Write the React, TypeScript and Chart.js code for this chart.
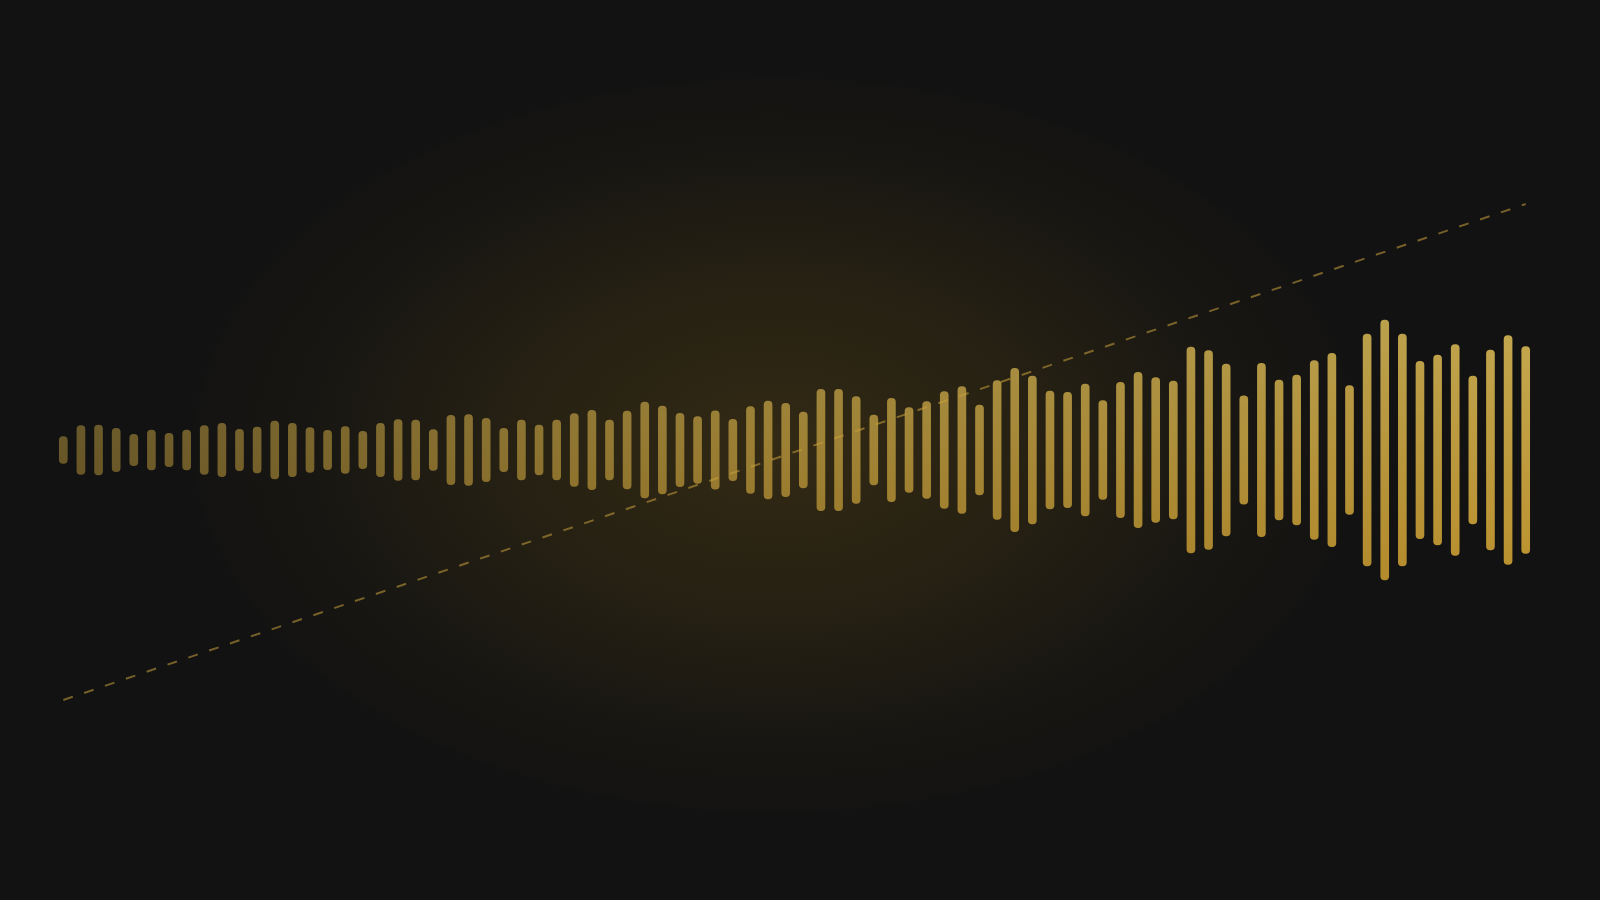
import React, { useEffect, useRef } from "react";
import { Chart, registerables } from "chart.js";

Chart.register(...registerables);

// amplitude of each waveform bar (half-height, symmetric around zero)
const amplitude: number[] = [
  13.3, 24.3, 25, 21.7, 15.7, 20, 16.7, 20, 24.3, 26.7,
  20.7, 23, 29, 26.7, 22.3, 19.7, 23.3, 18.7, 26.7, 30.3,
  30, 20.3, 34.7, 35.3, 31.7, 21.7, 30, 25, 30, 36.3,
  39.7, 30, 39, 48, 44, 36.7, 33.3, 39.2, 30.7, 43.3,
  49, 46.7, 38, 60.7, 60.7, 53.3, 35, 51.7, 42.3, 48.3,
  58.3, 63.3, 45, 69.3, 81.7, 74, 59, 57.7, 66, 49.3,
  67.7, 77.6, 72.3, 69, 103, 99.5, 86, 54.2, 86.7, 70,
  75, 89.3, 96.7, 64.3, 116, 130, 116, 88.7, 95, 105.3,
  74, 100, 114.3, 103.3,
];

const frames: string[] = amplitude.map((_, i) => String(i + 1));

// dashed trend line endpoints (first and last frame)
const trendStart = -250;
const trendEnd = 246;

const Y_MIN = -300;
const Y_MAX = 300;

const glowPlugin = {
  id: "glowBackground",
  beforeDraw(chart: any) {
    const { ctx, width, height } = chart;
    ctx.save();
    ctx.fillStyle = "#121212";
    ctx.fillRect(0, 0, width, height);
    const cx = 775;
    const cy = 445;
    const rx = 585;
    const ry = 370;
    ctx.translate(cx, cy);
    ctx.scale(1, ry / rx);
    const g = ctx.createRadialGradient(0, 0, 0, 0, 0, rx);
    g.addColorStop(0, "rgba(92,72,22,0.44)");
    g.addColorStop(0.45, "rgba(92,72,22,0.27)");
    g.addColorStop(0.8, "rgba(92,72,22,0.08)");
    g.addColorStop(0.985, "rgba(92,72,22,0.025)");
    g.addColorStop(1, "rgba(92,72,22,0)");
    ctx.fillStyle = g;
    ctx.beginPath();
    ctx.arc(0, 0, rx, 0, Math.PI * 2);
    ctx.fill();
    ctx.restore();
  },
};

export default function App() {
  const canvasRef = useRef<HTMLCanvasElement | null>(null);

  useEffect(() => {
    if (!canvasRef.current) return;
    const n = amplitude.length;
    const chart = new Chart(canvasRef.current, {
      type: "bar",
      data: {
        labels: frames,
        datasets: [
          {
            type: "line",
            label: "trend",
            data: [
              { x: frames[0], y: trendStart },
              { x: frames[n - 1], y: trendEnd },
            ] as any,
            borderColor: "rgba(200,160,60,0.55)",
            borderWidth: 2,
            borderDash: [10, 12],
            pointRadius: 0,
            fill: false,
            order: 0,
          } as any,
          {
            type: "bar",
            label: "waveform",
            data: amplitude.map((a) => [-a, a]) as any,
            barThickness: 8,
            borderRadius: 4,
            borderSkipped: false,
            borderWidth: 0,
            backgroundColor: (c: any) => {
              const chartObj = c.chart;
              const area = chartObj.chartArea;
              const i = c.dataIndex ?? 0;
              const alpha = 0.47 + (0.48 * i) / (n - 1);
              if (!area) return `rgba(200,160,55,${alpha})`;
              const g = chartObj.ctx.createLinearGradient(0, 300, 0, 600);
              g.addColorStop(0, `rgba(206,178,86,${alpha})`);
              g.addColorStop(1, `rgba(196,150,44,${alpha})`);
              return g;
            },
            order: 1,
          } as any,
        ],
      },
      options: {
        animation: false,
        responsive: true,
        maintainAspectRatio: false,
        layout: { padding: { left: 54.5, right: 65.5, top: 150, bottom: 150 } },
        plugins: {
          legend: { display: false },
          tooltip: { enabled: false },
        },
        scales: {
          x: { type: "category", display: false, offset: true, grid: { display: false } },
          y: { display: false, min: Y_MIN, max: Y_MAX },
        },
      },
      plugins: [glowPlugin],
    });
    return () => chart.destroy();
  }, []);

  return (
    <div
      style={{
        position: "fixed",
        left: 0,
        top: 0,
        width: 1600,
        height: 900,
        background: "#121212",
      }}
    >
      <canvas ref={canvasRef} />
    </div>
  );
}
